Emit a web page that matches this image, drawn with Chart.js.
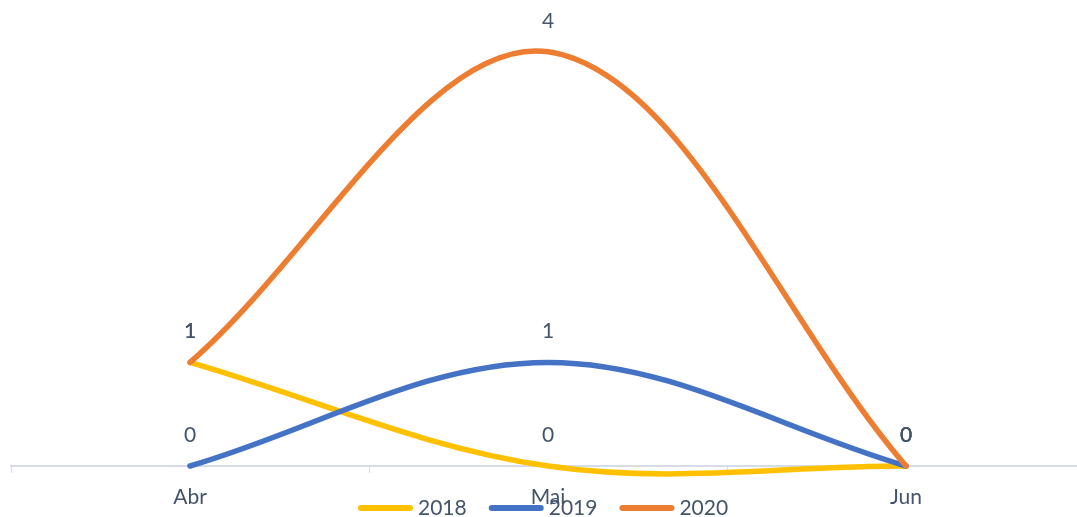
<!DOCTYPE html>
<html>
<head>
<meta charset="utf-8">
<script src="https://cdn.jsdelivr.net/npm/chart.js@4"></script>
<style>
  html, body { margin: 0; padding: 0; background: #fff; overflow: hidden; }
  #wrap { width: 1095px; height: 517px; position: relative; }
</style>
</head>
<body>
<div id="wrap"><canvas id="myChart"></canvas></div>
<script>
const categories = ['Abr', 'Mai', 'Jun'];
const seriesNames = ['2018', '2019', '2020'];
const values2018 = [1, 0, 0];
const values2019 = [0, 1, 0];
const values2020 = [1, 4, 0];

const colors = ['#FFC000', '#4472C4', '#ED7D31'];
const textColor = '#44546A';
const axisColor = '#D6DCE5';
const fontFamily = 'Lato, "Open Sans", sans-serif';

// value labels above each point (overlapping ones just stack up, as in the original)
const valueLabels = {
    id: 'valueLabels',
    afterDatasetsDraw(chart) {
        const ctx = chart.ctx;
        ctx.save();
        ctx.font = '21px ' + fontFamily;
        ctx.fillStyle = textColor;
        ctx.textAlign = 'center';
        ctx.textBaseline = 'middle';
        chart.data.datasets.forEach((ds, i) => {
            const meta = chart.getDatasetMeta(i);
            meta.data.forEach((pt, j) => {
                ctx.fillText(String(ds.data[j]), pt.x, pt.y - 31);
            });
        });
        ctx.restore();
    }
};

// legend drawn at the bottom, over the axis labels
const bottomLegend = {
    id: 'bottomLegend',
    afterDraw(chart) {
        const ctx = chart.ctx;
        ctx.save();
        ctx.font = '21px ' + fontFamily;
        ctx.textBaseline = 'middle';
        let x = 358;
        const y = 508;
        seriesNames.forEach((name, i) => {
            ctx.strokeStyle = colors[i];
            ctx.lineWidth = 6;
            ctx.lineCap = 'round';
            ctx.beginPath();
            ctx.moveTo(x + 3, y);
            ctx.lineTo(x + 52, y);
            ctx.stroke();
            ctx.fillStyle = textColor;
            ctx.fillText(name, x + 60, y);
            x += 60 + ctx.measureText(name).width + 22;
        });
        ctx.restore();
    }
};

const allValues = [values2018, values2019, values2020];

new Chart(document.getElementById('myChart'), {
    type: 'line',
    data: {
        labels: categories,
        datasets: seriesNames.map((name, i) => ({
            label: name,
            data: allValues[i],
            borderColor: colors[i],
            backgroundColor: colors[i],
            borderWidth: 5.5,
            borderCapStyle: 'round',
            borderJoinStyle: 'round',
            pointRadius: 0,
            tension: 0.35,
            clip: false,
            order: 3 - i
        }))
    },
    options: {
        responsive: true,
        maintainAspectRatio: false,
        animation: false,
        layout: { padding: { left: 11, right: 10, top: 0, bottom: 0 } },
        elements: { line: { capBezierPoints: false } },
        plugins: {
            legend: { display: false },
            tooltip: { enabled: false }
        },
        scales: {
            x: {
                offset: true,
                grid: {
                    offset: true,
                    drawOnChartArea: false,
                    drawTicks: true,
                    tickLength: 7,
                    color: axisColor,
                    lineWidth: 1
                },
                border: { display: true, color: axisColor, width: 2 },
                ticks: {
                    color: textColor,
                    font: { family: fontFamily, size: 21 },
                    padding: 12
                },
                afterFit(scale) { scale.height = 51; }
            },
            y: {
                display: false,
                min: 0,
                max: 4.5
            }
        }
    },
    plugins: [valueLabels, bottomLegend]
});
</script>
</body>
</html>
